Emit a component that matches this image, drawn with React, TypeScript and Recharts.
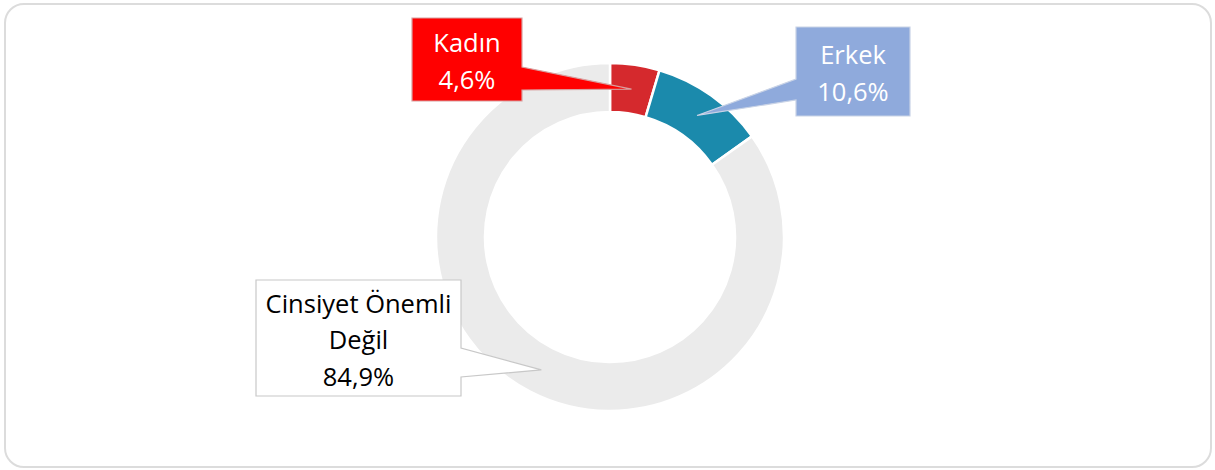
import { PieChart, Pie, Cell } from "recharts";

const categories = ["Kadın", "Erkek", "Cinsiyet Önemli Değil"];
const categoryLines = [["Kadın"], ["Erkek"], ["Cinsiyet Önemli", "Değil"]];
const shares = [4.6, 10.6, 84.9];
const shareLabels = ["4,6%", "10,6%", "84,9%"];

const data = categories.map((name, i) => ({ name, value: shares[i] }));

const sliceColors = ["#D5292D", "#1B8AAC", "#EBEBEB"];

// callout boxes (layout only), pointer tip comes from the pie geometry
const callouts = [
  { x: 412, y: 18, w: 110, h: 83, side: "right", a: 67, b: 90, fill: "#FF0000", stroke: "#d8a0a0", color: "#FFFFFF" },
  { x: 796, y: 27, w: 114, h: 89, side: "left", a: 79, b: 100, fill: "#8FAADC", stroke: "#c9d3e6", color: "#FFFFFF" },
  { x: 256, y: 280, w: 205, h: 116, side: "right", a: 348, b: 377, fill: "#FFFFFF", stroke: "#c8c8c8", color: "#000000" },
];

const RAD = Math.PI / 180;
const FONT = "'Open Sans', sans-serif";

function renderCallout(props: any) {
  const { cx, cy, midAngle, innerRadius, outerRadius, index } = props;
  const c = callouts[index];
  const r = (innerRadius + outerRadius) / 2;
  const tx = cx + r * Math.cos(-midAngle * RAD);
  const ty = cy + r * Math.sin(-midAngle * RAD);
  const { x, y, w, h } = c;
  const d =
    c.side === "right"
      ? `M${x},${y} H${x + w} V${c.a} L${tx},${ty} L${x + w},${c.b} V${y + h} H${x} Z`
      : `M${x},${y} H${x + w} V${y + h} H${x} V${c.b} L${tx},${ty} L${x},${c.a} Z`;
  const lines = [...categoryLines[index], shareLabels[index]];
  const lh = 36.5;
  const mid = y + h / 2 + 1;
  const first = mid - ((lines.length - 1) * lh) / 2;
  return (
    <g key={`callout-${index}`}>
      <path d={d} fill={c.fill} stroke={c.stroke} strokeWidth={1.2} />
      {lines.map((t, i) => (
        <text
          key={i}
          x={x + w / 2}
          y={first + i * lh}
          textAnchor="middle"
          dominantBaseline="central"
          fill={c.color}
          fontFamily={FONT}
          fontSize={25.5}
        >
          {t}
        </text>
      ))}
    </g>
  );
}

export default function App() {
  return (
    <div style={{ position: "absolute", left: 0, top: 0, width: 1215, height: 470, background: "#fff" }}>
      <div
        style={{
          position: "absolute",
          left: 4,
          top: 3,
          width: 1204,
          height: 461,
          border: "2px solid #dcdcdc",
          borderRadius: 20,
        }}
      />
      <div style={{ position: "absolute", left: 0, top: 0 }}>
        <PieChart width={1215} height={470} margin={{ top: 0, right: 0, bottom: 0, left: 0 }}>
          <Pie
            data={data}
            dataKey="value"
            nameKey="name"
            cx={610}
            cy={237}
            innerRadius={125}
            outerRadius={174}
            startAngle={90}
            endAngle={-270}
            stroke="#FFFFFF"
            strokeWidth={2.5}
            label={renderCallout}
            labelLine={false}
            isAnimationActive={false}
          >
            {data.map((d, i) => (
              <Cell key={d.name} fill={sliceColors[i]} />
            ))}
          </Pie>
        </PieChart>
      </div>
    </div>
  );
}
